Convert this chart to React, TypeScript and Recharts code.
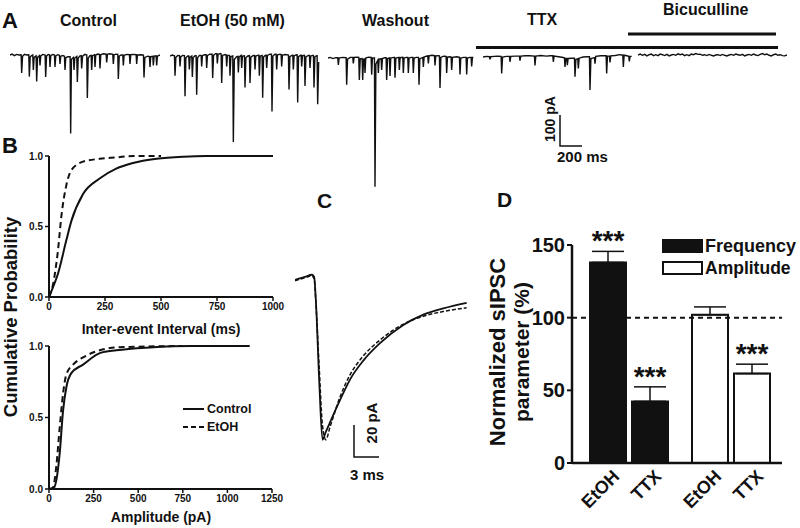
import React from 'react'
import {
  LineChart,
  Line,
  XAxis,
  YAxis,
  BarChart,
  Bar,
  Cell,
  ErrorBar,
  ReferenceLine,
  LabelList,
  Legend,
} from 'recharts'

const FONT = "'Liberation Sans', Arial, Helvetica, sans-serif"
const INK = '#111'

// ---- A: raw current traces, [time ms, current pA]
const conditions = ['Control', 'EtOH (50 mM)', 'Washout', 'TTX', 'Bicuculline']

const controlTrace: [number, number][] = [
  [0, 0], [18, 3], [40, -2], [60, 2], [80, 0], [100, 1], [105, -60], [113, -4], [130, 2], [150, 0],
  [169, 1], [174, -72], [182, -6], [195, -2], [205, 0], [210, -50], [217, -8], [235, -3], [240, -88],
  [248, -8], [258, -4], [265, -2], [270, -35], [277, -3], [295, 2], [316, 0], [321, -73], [329, -3],
  [345, 2], [355, 1], [360, -40], [367, -2], [385, 2], [400, 0], [405, -40], [412, -3], [430, 1],
  [445, -1], [450, -30], [457, -4], [475, -2], [490, -4], [495, -50], [502, -9], [520, -6], [541, -6],
  [546, -262], [553, -14], [565, -10], [571, -8], [576, -50], [583, -10], [601, -5], [606, -90],
  [614, -10], [630, -3], [640, -2], [645, -45], [653, -4], [675, 2], [691, 0], [696, -143], [704, -10],
  [720, -2], [730, -1], [735, -50], [742, -2], [760, 1], [765, -40], [772, 0], [790, 3], [805, 2],
  [810, -45], [817, 1], [840, 4], [865, 3], [870, -25], [877, 2], [900, 4], [925, 2], [930, -30],
  [937, 1], [955, 3], [970, 2], [975, -80], [983, -4], [1000, 0], [1015, 0], [1020, -35], [1027, -1],
  [1050, 2], [1075, 1], [1080, -30], [1087, 1], [1110, 2], [1135, 1], [1140, -30], [1147, 0],
  [1180, 1], [1201, 0], [1206, -75], [1214, -8], [1240, -4], [1255, -5], [1260, -40], [1267, -5],
  [1285, -4], [1290, -35], [1297, -4], [1315, -3], [1320, -35], [1327, -4], [1350, 0],
]

const etohTrace: [number, number][] = [
  [0, 0], [20, 3], [40, 1], [45, -66], [53, -4], [70, 2], [85, 1], [90, -35], [97, -2], [115, 2],
  [130, 1], [135, -134], [143, -6], [160, 0], [169, 0], [174, -45], [181, -4], [196, 0], [201, -70],
  [209, -5], [225, 1], [235, 1], [240, -129], [248, -6], [265, 2], [280, 2], [285, -35], [292, 1],
  [310, 4], [325, 4], [330, -40], [337, 2], [360, 6], [379, 6], [384, -73], [392, 2], [410, 8],
  [421, 8], [426, -25], [433, 6], [455, 8], [460, 7], [465, -90], [473, 2], [495, 5], [505, 4],
  [510, -35], [517, 2], [535, 2], [540, -66], [548, -2], [565, 0], [570, -287], [579, -12], [600, -2],
  [610, -1], [615, -55], [622, -3], [640, 2], [645, -40], [652, 0], [670, 1], [675, -105], [683, -6],
  [700, 0], [715, 1], [720, -90], [728, -4], [750, 2], [760, 2], [765, -45], [772, 0], [795, 3],
  [799, 3], [804, -66], [812, 0], [829, 2], [834, -139], [842, -3], [860, 3], [865, 3], [870, -40],
  [877, 2], [900, 6], [913, 6], [918, -185], [926, 0], [945, 6], [955, 6], [960, -45], [967, 3],
  [990, 6], [1000, 5], [1005, -35], [1012, 3], [1040, 5], [1066, 3], [1071, -112], [1079, -2],
  [1100, 3], [1105, 3], [1110, -45], [1117, 1], [1140, 4], [1144, 4], [1149, -155], [1157, -2],
  [1175, 3], [1180, 3], [1185, -35], [1192, 1], [1210, 2], [1215, -100], [1223, -3], [1245, 2],
  [1255, 2], [1260, -40], [1267, 0], [1285, 2], [1291, 2], [1296, -105], [1304, -3], [1320, 1],
  [1324, 1], [1329, -161], [1338, -20],
]

const washoutTrace: [number, number][] = [
  [0, 0], [20, 2], [45, -2], [70, 1], [88, 1], [93, -23], [100, 0], [130, 2], [163, 1], [168, -89],
  [176, -4], [200, 2], [223, 2], [228, -18], [235, 2], [260, 3], [277, 2], [282, -73], [290, -3],
  [307, -2], [312, -73], [320, -4], [328, -3], [333, -50], [340, 0], [365, 3], [388, 2], [393, -56],
  [400, 0], [418, 0], [423, -429], [431, -20], [448, -8], [453, -50], [460, -4], [478, -3], [483, -40],
  [490, -2], [510, 1], [523, 1], [528, -73], [536, -2], [553, 0], [558, -60], [565, 0], [590, 2],
  [598, 2], [603, -66], [611, 0], [637, 2], [642, -40], [649, 1], [673, 2], [678, -50], [685, 0],
  [705, 2], [718, 2], [723, -50], [730, 0], [750, 2], [763, 2], [768, -50], [775, 0], [795, 2],
  [814, 2], [819, -89], [827, -2], [853, 2], [858, -30], [865, 3], [885, 6], [898, 7], [903, -18],
  [910, 7], [935, 9], [958, 8], [963, -25], [970, 7], [990, 8], [1003, 7], [1008, -100], [1016, 2],
  [1040, 6], [1063, 5], [1068, -50], [1075, 3], [1095, 4], [1108, 3], [1113, -40], [1120, 2],
  [1160, 4], [1183, 2], [1188, -55], [1195, 0], [1220, 2], [1243, 2], [1248, -55], [1255, 0],
  [1275, 2], [1288, 2], [1293, -28], [1300, 2], [1308, 3],
]

const ttxTrace: [number, number][] = [
  [0, 0], [30, 2], [58, 1], [63, -8], [70, 1], [100, 2], [130, 3], [163, 2], [168, -55], [176, 0],
  [210, 2], [238, 2], [243, -16], [250, 2], [290, 3], [328, 3], [333, -12], [340, 3], [380, 4],
  [420, 4], [463, 3], [468, -28], [475, 3], [520, 5], [570, 3], [605, 4], [628, 4], [633, -16],
  [640, 3], [680, 1], [710, -1], [733, -3], [738, -33], [745, -5], [754, -5], [759, -27], [766, -5],
  [800, -4], [823, -4], [828, -66], [836, -8], [853, -6], [858, -38], [865, -4], [900, 0], [940, 1],
  [958, 1], [963, -110], [971, -5], [1003, -2], [1008, -22], [1015, 2], [1060, 4], [1108, 4],
  [1113, -55], [1120, 3], [1138, 3], [1143, -18], [1150, 4], [1190, 5], [1230, 8], [1258, 6],
  [1263, -33], [1270, 6], [1295, 4], [1312, 2], [1317, -15], [1324, 2], [1338, 2],
]

const bicucullineTrace: [number, number][] = [
  [0, 0], [20, 3], [40, -1], [60, 2], [80, -3], [100, 1], [120, 3], [140, -2], [160, 1], [180, -2],
  [200, 3], [220, 1], [240, -2], [260, 2], [280, -3], [300, 0], [320, 2], [340, -1], [360, 4],
  [380, 1], [400, 3], [420, -2], [440, 1], [460, -2], [480, 3], [500, 1], [520, 5], [540, 2],
  [560, 3], [580, -1], [600, 1], [620, -2], [640, 2], [660, -1], [680, -3], [700, 0], [720, 1],
  [740, -2], [760, 2], [780, -1], [800, -3], [820, 0], [840, 2], [860, -1], [880, 3], [900, 1],
  [920, -1], [940, 2], [960, -3], [980, 0], [1000, 2], [1020, -1], [1040, 3], [1060, 0],
  [1080, -2], [1100, 2], [1120, 5], [1140, 1], [1160, 3], [1180, -1], [1200, -3], [1220, 1],
  [1240, 3], [1260, -1], [1280, 1], [1300, -2], [1320, -3], [1340, 0],
]

// ---- B: cumulative distributions
const cdfSeries = ['Control', 'EtOH']
const iviControlX = [0, 18, 40, 77, 100, 152, 226, 300, 375, 480, 600, 700, 1000]
const iviControlY = [0, 0.07, 0.165, 0.4, 0.54, 0.73, 0.84, 0.91, 0.95, 0.98, 0.995, 1, 1]
const iviEtohX = [0, 18, 40, 55, 77, 100, 152, 226, 300, 375, 500]
const iviEtohY = [0, 0.09, 0.33, 0.57, 0.79, 0.9, 0.96, 0.98, 0.99, 1, 1]
const ampControlX = [0, 22, 41, 60, 79, 97, 125, 191, 285, 378, 566, 800, 1125]
const ampControlY = [0, 0, 0.06, 0.25, 0.55, 0.71, 0.81, 0.87, 0.95, 0.97, 0.99, 1, 1]
const ampEtohX = [0, 22, 41, 60, 79, 97, 135, 191, 285, 378, 750]
const ampEtohY = [0, 0.01, 0.16, 0.43, 0.67, 0.8, 0.87, 0.92, 0.97, 0.99, 1]

// ---- C: averaged sIPSC (ms, pA)
const ipscT = [0, 1.2, 2.04, 2.3, 2.5, 2.9, 3.3, 3.7, 4.2, 5.4, 6.6, 8.2, 10.2, 13.0, 15.4, 17.8, 20.6]
const ipscControl = [0, 1.9, 3.2, 1.9, -12.6, -63, -101, -96, -90, -76, -63, -51, -40, -28.5, -22, -18, -14.5]
const ipscEtoh = [-0.6, 1.3, 2.5, 0.6, -14, -55, -92, -101, -93, -74, -60, -48, -38, -28, -23, -20, -17.7]

// ---- D: normalized sIPSC parameters
const groups = ['Frequency', 'Amplitude']
const barNames = ['EtOH', 'TTX']
const etohMean = [138, 102]
const etohSem = [7.6, 5.4]
const ttxMean = [42.4, 61.5]
const ttxSem = [10, 6.5]
const etohSig = ['***', '']
const ttxSig = ['***', '***']

const pairs = (xs: number[], ys: number[]) => xs.map((x, i) => ({ x, y: ys[i] }))

const barRows = groups.map((g, i) => ({
  g,
  etoh: etohMean[i],
  etohErr: [0, etohSem[i]],
  ttx: ttxMean[i],
  ttxErr: [0, ttxSem[i]],
}))

const ipscRows = ipscT.map((t, i) => ({ t, control: ipscControl[i], etoh: ipscEtoh[i] }))

function Trace({ points, left, top }: { points: [number, number][]; left: number; top: number }) {
  const data = points.map(([t, v]) => ({ t, v }))
  return (
    <div style={{ position: 'absolute', left, top }}>
      <LineChart width={150} height={168} data={data} margin={{ top: 0, right: 0, bottom: 0, left: 0 }}>
        <XAxis dataKey="t" type="number" domain={[0, 1350]} hide />
        <YAxis type="number" domain={[-500, 60]} hide allowDataOverflow />
        <Line dataKey="v" type="linear" stroke={INK} strokeWidth={1.4} dot={false} isAnimationActive={false} />
      </LineChart>
    </div>
  )
}

const tickStyle = (size: number) => ({ fontSize: size, fontWeight: 700, fill: INK, fontFamily: FONT })

const cdfLegend = () => (
  <svg width={90} height={40} style={{ overflow: 'visible' }}>
    {cdfSeries.map((name, i) => (
      <g key={name}>
        <line x1={0} x2={21} y1={10 + i * 18} y2={10 + i * 18} stroke={INK} strokeWidth={2}
          strokeDasharray={i === 1 ? '5 3' : undefined} />
        <text x={24} y={10 + i * 18} dominantBaseline="central" fontSize={12.5} fontWeight={700}
          fontFamily={FONT} fill={INK}>{name}</text>
      </g>
    ))}
  </svg>
)

function CdfPanel(props: {
  top: number; height: number; right: number; xMax: number; xTicks: number[]
  control: { x: number; y: number }[]; etoh: { x: number; y: number }[]; legend?: boolean
}) {
  const { top, height, right, xMax, xTicks, control, etoh, legend } = props
  return (
    <div style={{ position: 'absolute', left: 0, top }}>
      <LineChart width={290} height={height} margin={{ top: 15, right, bottom: 0, left: 0 }}>
        <XAxis dataKey="x" type="number" domain={[0, xMax]} ticks={xTicks} interval={0} height={30}
          tick={tickStyle(10)} tickSize={4} axisLine={{ stroke: INK, strokeWidth: 2 }}
          tickLine={{ stroke: INK, strokeWidth: 1.5 }} />
        <YAxis type="number" domain={[0, 1]} ticks={[0, 0.5, 1]} width={49} tick={tickStyle(10)}
          tickSize={4} tickFormatter={(v: number) => v.toFixed(1)}
          axisLine={{ stroke: INK, strokeWidth: 2 }} tickLine={{ stroke: INK, strokeWidth: 1.5 }} />
        <Line data={control} dataKey="y" type="monotone" stroke={INK} strokeWidth={2} dot={false}
          isAnimationActive={false} />
        <Line data={etoh} dataKey="y" type="monotone" stroke={INK} strokeWidth={2} strokeDasharray="6 4"
          dot={false} isAnimationActive={false} />
        {legend && (
          <Legend layout="horizontal" verticalAlign="middle" align="center" content={cdfLegend}
            wrapperStyle={{ left: 183, top: 68, width: 90 }} />
        )}
      </LineChart>
    </div>
  )
}

const starLabel = (sig: string[], sem: number[]) => (p: any) => {
  const vb = p.viewBox || p
  const { x, y, width, height } = vb
  const s = sig[p.index]
  if (!s) return null
  const value = Number(p.value)
  const k = height / value
  const top = y - sem[p.index] * k
  return (
    <text x={x + width / 2} y={top - 1} textAnchor="middle" fontSize={28} fontWeight={700}
      fontFamily={FONT} fill={INK}>{s}</text>
  )
}

// bar name under each bar, slanted at -45 degrees
const nameLabel = (name: string) => (p: any) => {
  const vb = p.viewBox || p
  const { x, y, width, height } = vb
  const ax = x + width / 2 + 8
  const ay = y + height + 10
  return (
    <g transform={`translate(${ax},${ay})`}>
      <text x={0} y={0} transform="rotate(-45)" textAnchor="end" dy="0.35em" fontSize={18}
        fontWeight={700} fontFamily={FONT} fill={INK}>{name}</text>
    </g>
  )
}

const barLegend = () => (
  <svg width={140} height={45} style={{ overflow: 'visible' }}>
    {groups.map((g, i) => (
      <g key={g}>
        <rect x={1} y={3 + i * 22} width={39} height={12} fill={i === 0 ? INK : '#fff'} stroke={INK} strokeWidth={2} />
        <text x={43} y={9 + i * 22} dominantBaseline="central" fontSize={i === 0 ? 18 : 17.5}
          fontWeight={700} fontFamily={FONT} fill={INK}>{g}</text>
      </g>
    ))}
  </svg>
)

export default function App() {
  const bold = { fontFamily: FONT, fontWeight: 700, fill: INK }
  return (
    <div style={{ position: 'absolute', left: 0, top: 0, width: 800, height: 528, background: '#fff', overflow: 'hidden' }}>
      {/* A */}
      <Trace points={controlTrace} left={10} top={37} />
      <Trace points={etohTrace} left={170} top={38} />
      <Trace points={washoutTrace} left={328} top={40} />
      <Trace points={ttxTrace} left={483} top={39} />
      <Trace points={bicucullineTrace} left={638} top={37} />

      {/* B */}
      <CdfPanel top={141} height={186} right={17} xMax={1000} xTicks={[0, 250, 500, 750, 1000]}
        control={pairs(iviControlX, iviControlY)} etoh={pairs(iviEtohX, iviEtohY)} />
      <CdfPanel top={331} height={188} right={18} xMax={1250} xTicks={[0, 250, 500, 750, 1000, 1250]}
        control={pairs(ampControlX, ampControlY)} etoh={pairs(ampEtohX, ampEtohY)} legend />

      {/* C */}
      <div style={{ position: 'absolute', left: 295, top: 264 }}>
        <LineChart width={180} height={190} data={ipscRows} margin={{ top: 0, right: 0, bottom: 0, left: 0 }}>
          <XAxis dataKey="t" type="number" domain={[0, 21.6]} hide />
          <YAxis type="number" domain={[-110, 10]} hide />
          <Line dataKey="control" type="monotone" stroke={INK} strokeWidth={1.8} dot={false} isAnimationActive={false} />
          <Line dataKey="etoh" type="monotone" stroke={INK} strokeWidth={1.5} strokeDasharray="4 2" dot={false}
            isAnimationActive={false} />
        </LineChart>
      </div>

      {/* D */}
      <div style={{ position: 'absolute', left: 520, top: 215 }}>
        <BarChart width={270} height={308} data={barRows} margin={{ top: 30, right: 8, bottom: 0, left: 0 }}
          barSize={36} barGap={6} style={{ overflow: 'visible' }}>
          <XAxis dataKey="g" height={60} tick={false} tickLine={false} padding={{ left: 6, right: 0 }}
            axisLine={{ stroke: INK, strokeWidth: 2.5 }} />
          <YAxis type="number" domain={[0, 150]} ticks={[0, 50, 100, 150]} width={52} tick={tickStyle(20)}
            tickSize={5} axisLine={{ stroke: INK, strokeWidth: 2.5 }} tickLine={{ stroke: INK, strokeWidth: 2 }} />
          <ReferenceLine y={100} stroke={INK} strokeWidth={2} strokeDasharray="5 4" />
          <Bar dataKey="etoh" isAnimationActive={false}>
            {barRows.map((r, i) => (
              <Cell key={r.g} fill={i === 0 ? INK : '#fff'} stroke={INK} strokeWidth={2} />
            ))}
            <ErrorBar dataKey="etohErr" direction="y" width={16} stroke={INK} strokeWidth={1.5} />
            <LabelList dataKey="etoh" content={starLabel(etohSig, etohSem)} />
            <LabelList dataKey="etoh" content={nameLabel(barNames[0])} />
          </Bar>
          <Bar dataKey="ttx" isAnimationActive={false}>
            {barRows.map((r, i) => (
              <Cell key={r.g} fill={i === 0 ? INK : '#fff'} stroke={INK} strokeWidth={2} />
            ))}
            <ErrorBar dataKey="ttxErr" direction="y" width={16} stroke={INK} strokeWidth={1.5} />
            <LabelList dataKey="ttx" content={starLabel(ttxSig, ttxSem)} />
            <LabelList dataKey="ttx" content={nameLabel(barNames[1])} />
          </Bar>
          <Legend layout="horizontal" verticalAlign="middle" align="center" content={barLegend}
            wrapperStyle={{ left: 142, top: 22, width: 140 }} />
        </BarChart>
      </div>

      {/* annotations */}
      <svg width={800} height={528} style={{ position: 'absolute', left: 0, top: 0, pointerEvents: 'none' }}>
        <text x={2} y={28} fontSize={22} {...bold}>A</text>
        <text x={60} y={26} fontSize={16} {...bold}>{conditions[0]}</text>
        <text x={180} y={26} fontSize={16} {...bold}>{conditions[1]}</text>
        <text x={362} y={26} fontSize={16} {...bold}>{conditions[2]}</text>
        <text x={527} y={25} fontSize={16} {...bold}>{conditions[3]}</text>
        <text x={663} y={15} fontSize={16} {...bold}>{conditions[4]}</text>
        <line x1={476} x2={778} y1={47.5} y2={47.5} stroke={INK} strokeWidth={3} />
        <line x1={628} x2={776} y1={34} y2={34} stroke={INK} strokeWidth={3} />
        <polyline points="560,115 560,146 582,146" fill="none" stroke={INK} strokeWidth={1.5} />
        <text transform="translate(555,119) rotate(-90)" textAnchor="middle" fontSize={14} {...bold}>100 pA</text>
        <text x={557} y={162} fontSize={15} {...bold}>200 ms</text>

        <text x={2} y={153} fontSize={22} {...bold}>B</text>
        <text transform="translate(17,317) rotate(-90)" textAnchor="middle" fontSize={18.5} {...bold}>Cumulative Probability</text>
        <text x={161} y={334} textAnchor="middle" fontSize={14} {...bold}>Inter-event Interval (ms)</text>
        <text x={161} y={522} textAnchor="middle" fontSize={14} {...bold}>Amplitude (pA)</text>

        <text x={317} y={208} fontSize={21} {...bold}>C</text>
        <polyline points="354,425 354,457 379,457" fill="none" stroke={INK} strokeWidth={1.5} />
        <text transform="translate(377,423) rotate(-90)" textAnchor="middle" fontSize={15} {...bold}>20 pA</text>
        <text x={350} y={480} fontSize={15} {...bold}>3 ms</text>

        <text x={497} y={207} fontSize={21} {...bold}>D</text>
        <text transform="translate(505,352) rotate(-90)" textAnchor="middle" fontSize={22} {...bold}>Normalized sIPSC</text>
        <text transform="translate(529,352) rotate(-90)" textAnchor="middle" fontSize={21} {...bold}>parameter (%)</text>
      </svg>
    </div>
  )
}
